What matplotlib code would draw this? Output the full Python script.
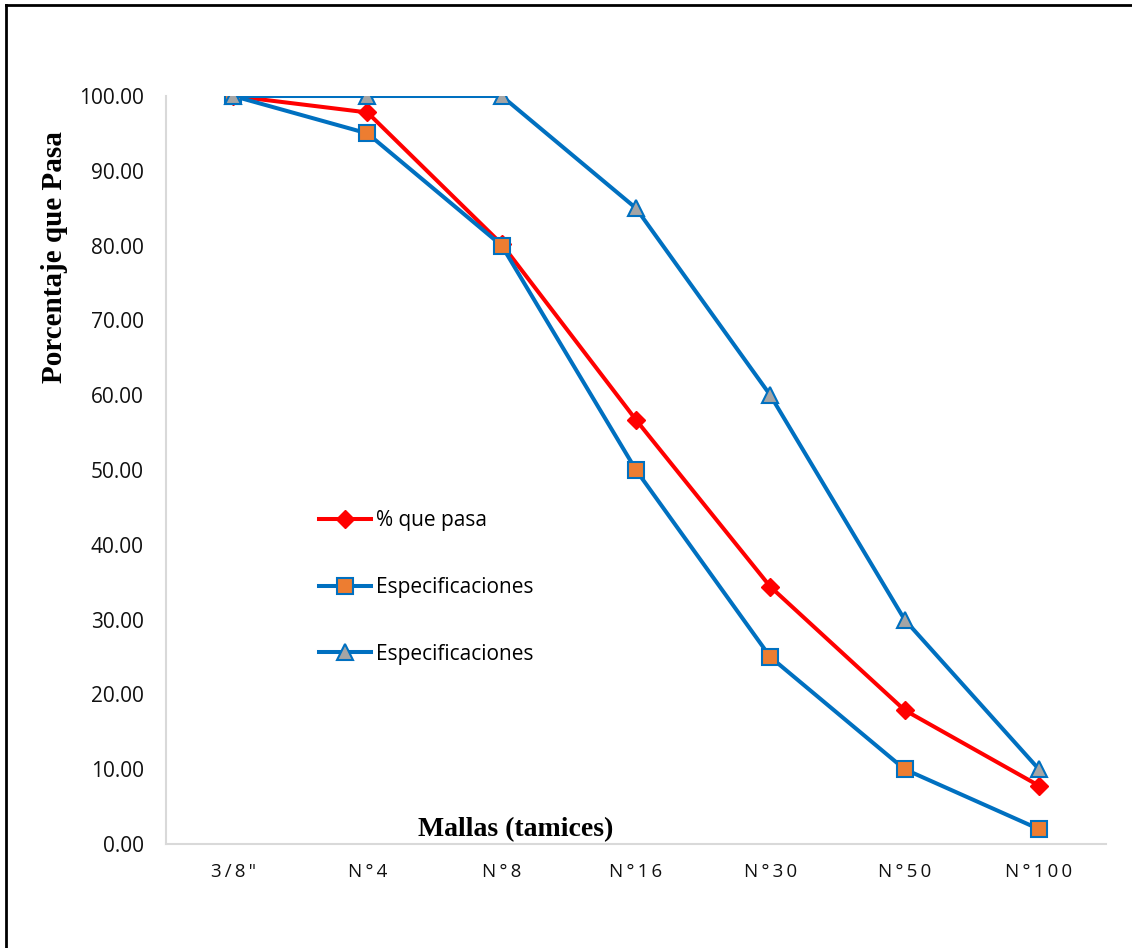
import matplotlib.pyplot as plt
from matplotlib.lines import Line2D

# Sieve sizes and percent passing
mallas = ['3/8"', 'N°4', 'N°8', 'N°16', 'N°30', 'N°50', 'N°100']
pct_pasa = [100.0, 97.8, 80.2, 56.7, 34.4, 17.9, 7.8]
espec_inf = [100, 95, 80, 50, 25, 10, 2]
espec_sup = [100, 100, 100, 85, 60, 30, 10]

BLUE = '#0070C0'
ORANGE = '#ED7D31'
GRAY = '#A5A5A5'
RED = '#FF0000'

fig = plt.figure(figsize=(11.32, 9.48), dpi=100)
ax = fig.add_axes([166 / 1132, 1 - 844 / 948, (1106 - 166) / 1132, (844 - 96) / 948])

x = list(range(len(mallas)))
ax.plot(x, pct_pasa, color=RED, lw=2.9, marker='D', ms=9, mfc=RED, mec=RED,
        label='% que pasa', zorder=3)
ax.plot(x, espec_inf, color=BLUE, lw=2.9, marker='s', ms=11.5, mfc=ORANGE, mec=BLUE,
        mew=1.5, label='Especificaciones', zorder=4)
ax.plot(x, espec_sup, color=BLUE, lw=2.9, marker='^', ms=12, mfc=GRAY, mec=BLUE,
        mew=1.5, label='Especificaciones', zorder=5)

ax.set_xlim(-0.5, len(mallas) - 0.5)
ax.set_ylim(0, 100)
ax.set_yticks(range(0, 101, 10))
ax.set_yticklabels([f'{v:.2f}' for v in range(0, 101, 10)], fontsize=15,
                   family='Open Sans', color='#111111')
ax.set_xticks(x)
ax.set_xticklabels(['\u2009'.join(m) for m in mallas], fontsize=13.5,
                   family=['Open Sans', 'DejaVu Sans'], color='#111111')
ax.tick_params(length=0)
ax.tick_params(axis='y', pad=16)
ax.tick_params(axis='x', pad=14)

for s in ['top', 'right']:
    ax.spines[s].set_visible(False)
for s in ['left', 'bottom']:
    ax.spines[s].set_color('#D9D9D9')
    ax.spines[s].set_linewidth(1.5)

fig.text(55 / 1132, 1 - 257 / 948, 'Porcentaje que Pasa', rotation=90,
         ha='center', va='center', family='Liberation Serif', weight='bold',
         fontsize=21)
fig.text(516 / 1132, 1 - 830 / 948, 'Mallas (tamices)', ha='center', va='center',
         family='Liberation Serif', weight='bold', fontsize=20)

ax.legend(loc='upper left', bbox_to_anchor=(319 / 1132, 1 - 510 / 948),
          bbox_transform=fig.transFigure, frameon=False, borderpad=0,
          borderaxespad=0, prop={'family': 'Open Sans', 'size': 15},
          labelspacing=2.2, handlelength=2.5, handletextpad=0.25)

# Outer chart border (top and left edges)
fig.add_artist(Line2D([6 / 1132, 6 / 1132], [0, 1 - 5 / 948], color='black', lw=2,
                      transform=fig.transFigure))
fig.add_artist(Line2D([6 / 1132, 1], [1 - 5 / 948, 1 - 5 / 948], color='black', lw=2,
                      transform=fig.transFigure))

fig.savefig('out.png', dpi=100)
